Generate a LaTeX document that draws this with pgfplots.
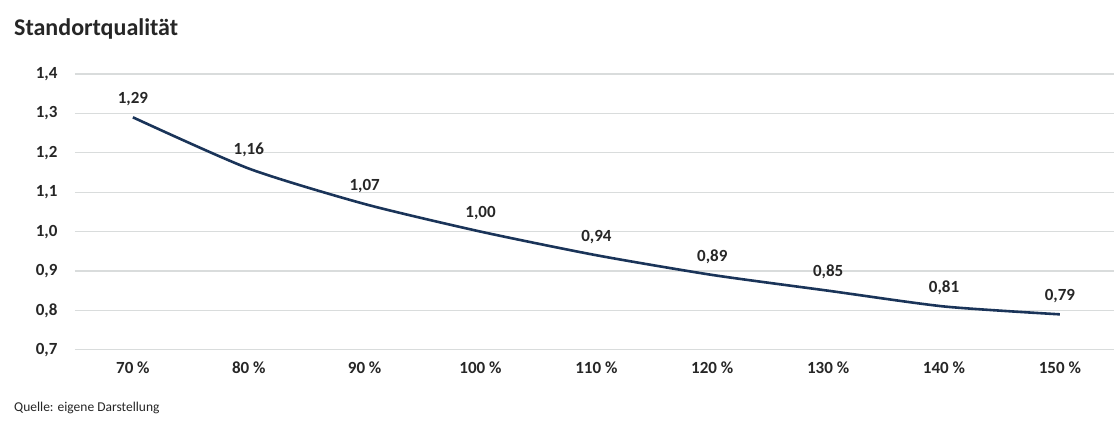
\documentclass[border=0pt]{standalone}
\usepackage{pgfplots}
\pgfplotsset{compat=1.18}
\usepackage{fontspec}
\setmainfont{Carlito}
\definecolor{linec}{HTML}{1A3459}
\definecolor{gridc}{HTML}{D9DCDC}
\definecolor{txt}{HTML}{262626}
\begin{document}
\begin{tikzpicture}[x=1pt,y=1pt]
\path[fill=white] (0,0) rectangle (1115,421);
\node[anchor=west,font=\bfseries\fontsize{24}{28}\selectfont,text=txt,inner sep=0pt] at (14,392) {Standortqualität};
\node[anchor=west,font=\fontsize{13.5}{15}\selectfont,text=txt,inner sep=0pt] at (14,13) {Quelle: eigene Darstellung};
\begin{axis}[
  at={(75pt,71pt)}, anchor=south west,
  scale only axis, width=1040pt, height=276pt,
  xmin=-0.5, xmax=8.47, ymin=0.7, ymax=1.4,
  ytick={0.7,0.8,0.9,1.0,1.1,1.2,1.3,1.4},
  xtick={0,1,2,3,4,5,6,7,8},
  xticklabels={70 \%,80 \%,90 \%,100 \%,110 \%,120 \%,130 \%,140 \%,150 \%},
  axis line style={draw=none},
  major tick length=0pt,
  ymajorgrids, grid style={gridc, line width=1.3pt},
  /pgf/number format/assume math mode=true,
  yticklabel style={/pgf/number format/use comma, /pgf/number format/fixed, /pgf/number format/fixed zerofill, /pgf/number format/precision=1},
  ticklabel style={font=\bfseries\fontsize{17}{19}\selectfont, text=txt},
  yticklabel style={anchor=east, xshift=-14pt},
  xticklabel style={yshift=-8pt},
  clip=false,
]
\addplot[linec, line width=2.6pt, smooth, tension=0.4,
  nodes near coords,
  point meta=explicit symbolic,
  every node near coord/.append style={font=\bfseries\fontsize{17}{19}\selectfont, text=txt, yshift=7pt}]
  table[meta=lab] {
x y lab
0 1.29 1,29
1 1.16 1,16
2 1.07 1,07
3 1.00 1,00
4 0.94 0,94
5 0.89 0,89
6 0.85 0,85
7 0.81 0,81
8 0.79 0,79
};
\end{axis}
\end{tikzpicture}
\end{document}
